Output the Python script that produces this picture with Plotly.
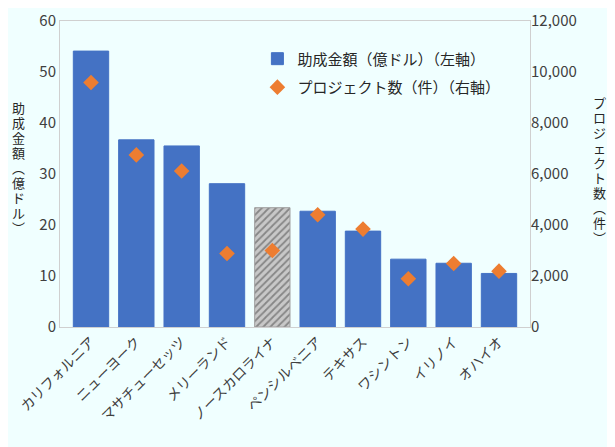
import plotly.graph_objects as go

states = ["カリフォルニア", "ニューヨーク", "マサチューセッツ", "メリーランド", "ノースカロライナ",
          "ペンシルベニア", "テキサス", "ワシントン", "イリノイ", "オハイオ"]
funding = [54.1, 36.7, 35.5, 28.1, 23.4, 22.7, 18.8, 13.3, 12.5, 10.5]   # 億ドル
projects = [9590, 6750, 6120, 2880, 3000, 4400, 3840, 1890, 2490, 2190]  # 件
left_ticks = [0, 10, 20, 30, 40, 50, 60]
right_ticks = [0, 2000, 4000, 6000, 8000, 10000, 12000]

FONT = "Noto Sans CJK JP"
BLUE = "#4472C4"
ORANGE = "#ED7D31"
W, H = 615, 447
ML, MR, MT, MB = 52, 93, 13, 128

# ノースカロライナだけ網掛け
bar_colors = [BLUE if s != "ノースカロライナ" else "#C8C8C8" for s in states]
shapes = ["" if s != "ノースカロライナ" else "/" for s in states]
line_colors = [BLUE if s != "ノースカロライナ" else "#A0A0A0" for s in states]

fig = go.Figure()
fig.add_trace(go.Bar(
    x=states, y=funding, name="助成金額（億ドル）（左軸）", legendgroup="a",
    marker=dict(color=bar_colors, line=dict(color=line_colors, width=1),
                pattern=dict(shape=shapes, fgcolor="#8C8C8C", size=5, solidity=0.35)),
))
fig.add_trace(go.Scatter(
    x=states, y=projects, name="プロジェクト数（件）（右軸）", yaxis="y2", legendgroup="b",
    mode="markers", marker=dict(symbol="diamond", size=12, color=ORANGE),
))


def vertical_title(text, px_x, px_center, step):
    # 縦書きの軸タイトル（1文字ずつ配置）
    pw, ph = W - ML - MR, H - MT - MB
    top = px_center - step * len(text) / 2
    out = []
    for i, ch in enumerate(text):
        py = top + step * (i + 0.5)
        out.append(dict(text=ch, x=(px_x - ML) / pw, y=(H - MB - py) / ph,
                        xref="paper", yref="paper", showarrow=False,
                        xanchor="center", yanchor="middle",
                        font=dict(size=13, color="#262626")))
    return out


annotations = vertical_title("助成金額︵億ドル︶", 10, 159, 15) + \
    vertical_title("プロジェクト数︵件︶", 591, 162, 15)

fig.update_layout(
    width=W, height=H,
    margin=dict(l=ML, r=MR, t=MT, b=MB, autoexpand=False),
    paper_bgcolor="#F0FFFF", plot_bgcolor="#F0FFFF",
    font=dict(family=FONT, size=14, color="#404040"),
    bargap=0.22, showlegend=True,
    legend=dict(x=0.42, y=0.93, xanchor="left", yanchor="top",
                bgcolor="rgba(0,0,0,0)", font=dict(size=15, color="#262626"),
                tracegroupgap=6),
    xaxis=dict(tickangle=-45, showline=True, linecolor="#D0D0D0", mirror=True,
               ticks="", automargin=False, tickfont=dict(size=14, color="#404040")),
    yaxis=dict(range=[0, 60], tickvals=left_ticks, showgrid=False, showline=True,
               linecolor="#D0D0D0", mirror=True, zeroline=False, ticks="",
               automargin=False, tickfont=dict(size=15)),
    yaxis2=dict(range=[0, 12000], tickvals=right_ticks, overlaying="y", side="right",
                showgrid=False, zeroline=False, tickformat=",", ticks="",
                automargin=False, tickfont=dict(size=15)),
    annotations=annotations,
)

fig.write_html("out.html")
